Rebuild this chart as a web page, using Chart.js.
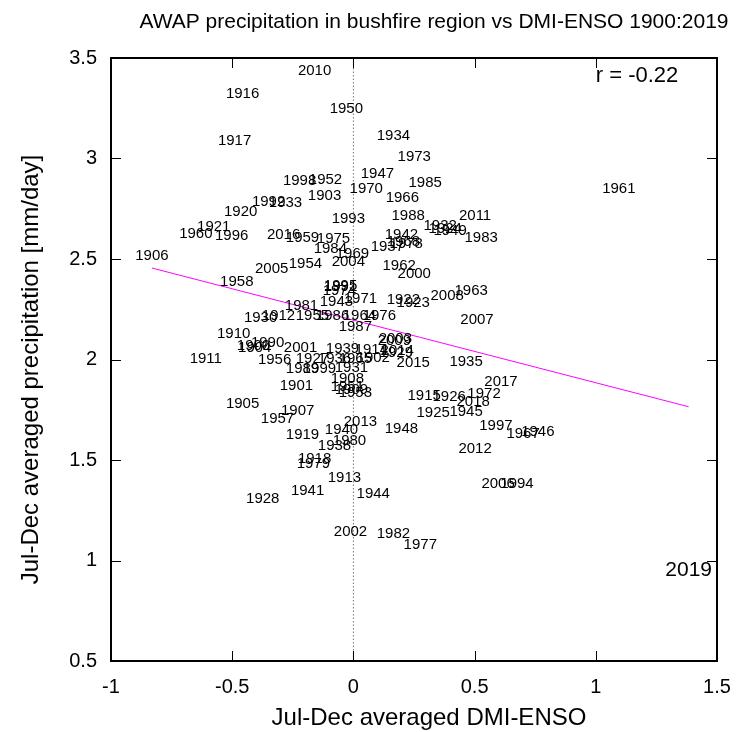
<!DOCTYPE html>
<html>
<head>
<meta charset="utf-8">
<title>AWAP precipitation vs DMI-ENSO</title>
<script src="https://cdn.jsdelivr.net/npm/chart.js@4.4.1/dist/chart.umd.min.js"></script>
<style>
    html, body { margin: 0; padding: 0; background: #fff; }
    canvas { display: block; }
</style>
</head>
<body>
<canvas id="scatter" width="740" height="732"></canvas>
<script>
// Jul-Dec averages per year: DMI-ENSO index and AWAP precipitation (mm/day)
const years = [
    1900, 1901, 1902, 1903, 1904, 1905, 1906, 1907, 1908, 1909,
    1910, 1911, 1912, 1913, 1914, 1915, 1916, 1917, 1918, 1919,
    1920, 1921, 1922, 1923, 1924, 1925, 1926, 1927, 1928, 1929,
    1930, 1931, 1932, 1933, 1934, 1935, 1936, 1937, 1938, 1939,
    1940, 1941, 1942, 1943, 1944, 1945, 1946, 1947, 1948, 1949,
    1950, 1951, 1952, 1953, 1954, 1955, 1956, 1957, 1958, 1959,
    1960, 1961, 1962, 1963, 1964, 1965, 1966, 1967, 1968, 1969,
    1970, 1971, 1972, 1973, 1974, 1975, 1976, 1977, 1978, 1979,
    1980, 1981, 1982, 1983, 1984, 1985, 1986, 1987, 1988, 1989,
    1990, 1991, 1992, 1993, 1994, 1995, 1996, 1997, 1998, 1999,
    2000, 2001, 2002, 2003, 2004, 2005, 2006, 2007, 2008, 2009,
    2010, 2011, 2012, 2013, 2014, 2015, 2016, 2017, 2018, 2019
];
const dmiEnso = [
    -0.412, -0.235, 0.082, -0.119, -0.407, -0.457, -0.831, -0.230, -0.025, -0.008,
    -0.494, -0.609, -0.309, -0.037, 0.074, 0.292, -0.457, -0.490, -0.160, -0.210,
    -0.465, -0.576, 0.206, 0.247, 0.379, 0.329, 0.395, -0.169, -0.374, 0.177,
    -0.383, -0.008, 0.358, -0.280, 0.165, 0.465, -0.078, 0.140, -0.078, -0.045,
    -0.049, -0.189, 0.198, -0.070, 0.082, 0.465, 0.761, 0.099, 0.198, 0.399,
    -0.029, -0.025, -0.115, 0.008, -0.198, -0.169, -0.325, -0.313, -0.481, -0.210,
    -0.650, 1.095, 0.189, 0.486, 0.025, 0.008, 0.202, 0.700, 0.206, -0.004,
    0.053, 0.029, 0.539, 0.251, -0.058, -0.082, 0.107, 0.276, 0.218, -0.165,
    -0.016, -0.214, 0.165, 0.527, -0.095, 0.296, -0.086, 0.008, 0.226, -0.210,
    -0.354, -0.053, -0.350, -0.021, 0.675, -0.053, -0.502, 0.588, -0.222, -0.140,
    0.251, -0.218, -0.012, 0.173, -0.021, -0.337, 0.597, 0.510, 0.387, 0.169,
    -0.160, 0.502, 0.502, 0.029, 0.181, 0.247, -0.288, 0.609, 0.494, 1.383
];
const precip = [
    2.067, 1.868, 2.007, 2.813, 2.057, 1.779, 2.515, 1.744, 1.903, 1.848,
    2.127, 2.002, 2.216, 1.410, 2.047, 1.818, 3.321, 3.087, 1.505, 1.624,
    2.734, 2.659, 2.296, 2.281, 2.649, 1.734, 1.813, 2.002, 1.306, 2.032,
    2.206, 1.958, 2.664, 2.779, 3.112, 1.988, 2.002, 2.560, 1.570, 2.052,
    1.649, 1.346, 2.619, 2.286, 1.331, 1.739, 1.639, 2.923, 1.654, 2.639,
    3.246, 1.863, 2.893, 1.833, 2.475, 2.216, 1.997, 1.704, 2.386, 2.604,
    2.624, 2.848, 2.465, 2.341, 2.216, 2.002, 2.803, 1.629, 2.585, 2.525,
    2.848, 2.301, 1.828, 3.007, 2.341, 2.600, 2.216, 1.077, 2.575, 1.480,
    1.595, 2.266, 1.132, 2.604, 2.550, 2.878, 2.216, 2.162, 2.714, 1.953,
    2.082, 2.361, 2.784, 2.699, 1.381, 2.366, 2.614, 1.669, 2.888, 1.953,
    2.425, 2.057, 1.142, 2.102, 2.485, 2.450, 1.381, 2.197, 2.316, 2.092,
    3.435, 2.714, 1.555, 1.689, 2.042, 1.983, 2.619, 1.888, 1.789, 0.953
];

// least-squares line, end points over the range of DMI-ENSO
const fitX = [-0.831, 1.383];
const fitY = [2.455, 1.765];

const xTicks = [-1, -0.5, 0, 0.5, 1, 1.5];
const yTicks = [0.5, 1, 1.5, 2, 2.5, 3, 3.5];

const corrText = 'r = -0.22';
const highlightYear = 2019;

const FONT = '"Liberation Sans", Arial, Helvetica, sans-serif';

const points = years.map((yr, i) => ({ x: dmiEnso[i], y: precip[i], year: yr }));

// year numbers written at each point (gnuplot "with labels" style)
const yearLabels = {
    id: 'yearLabels',
    afterDatasetsDraw(chart) {
        const ctx = chart.ctx;
        const meta = chart.getDatasetMeta(0);
        ctx.save();
        ctx.fillStyle = '#000';
        ctx.textAlign = 'center';
        ctx.textBaseline = 'middle';
        meta.data.forEach((el, i) => {
            const p = points[i];
            ctx.font = (p.year === highlightYear ? '21px ' : '15px ') + FONT;
            ctx.fillText(String(p.year), el.x, el.y);
        });
        ctx.restore();
    }
};

// frame, inward mirrored ticks, titles and correlation text
const frame = {
    id: 'frame',
    afterDraw(chart) {
        const { ctx, chartArea: a, scales } = chart;
        ctx.save();
        ctx.strokeStyle = '#000';
        ctx.lineWidth = 1;
        const len = 10;
        ctx.beginPath();
        xTicks.slice(1, -1).forEach(v => {
            const px = Math.round(scales.x.getPixelForValue(v)) + 0.5;
            ctx.moveTo(px, a.bottom); ctx.lineTo(px, a.bottom - len);
            ctx.moveTo(px, a.top); ctx.lineTo(px, a.top + len);
        });
        yTicks.slice(1, -1).forEach(v => {
            const py = Math.round(scales.y.getPixelForValue(v)) + 0.5;
            ctx.moveTo(a.left, py); ctx.lineTo(a.left + len, py);
            ctx.moveTo(a.right, py); ctx.lineTo(a.right - len, py);
        });
        ctx.stroke();

        ctx.lineWidth = 2;
        ctx.strokeRect(a.left, a.top, a.right - a.left, a.bottom - a.top);

        ctx.fillStyle = '#000';
        ctx.textBaseline = 'middle';
        ctx.textAlign = 'center';
        ctx.font = '21px ' + FONT;
        ctx.fillText('AWAP precipitation in bushfire region vs DMI-ENSO 1900:2019', 434, 22);

        // axis titles
        ctx.font = '24px ' + FONT;
        ctx.fillText('Jul-Dec averaged DMI-ENSO', (a.left + a.right) / 2 + 15, 718);
        ctx.save();
        ctx.translate(31, (a.top + a.bottom) / 2 + 10);
        ctx.rotate(-Math.PI / 2);
        ctx.fillText('Jul-Dec averaged precipitation [mm/day]', 0, 0);
        ctx.restore();

        ctx.textAlign = 'left';
        ctx.font = '22px ' + FONT;
        ctx.fillText(corrText, a.left + 0.8 * (a.right - a.left), a.bottom - 0.97 * (a.bottom - a.top));
        ctx.restore();
    }
};

const ctx = document.getElementById('scatter').getContext('2d');

new Chart(ctx, {
    type: 'scatter',
    data: {
        datasets: [
            {
                label: 'years',
                data: points,
                pointRadius: 0,
                pointHoverRadius: 0
            },
            {
                type: 'line',
                label: 'fit',
                data: fitX.map((x, i) => ({ x: x, y: fitY[i] })),
                borderColor: '#ff00ff',
                borderWidth: 1,
                pointRadius: 0,
                fill: false
            },
            {
                type: 'line',
                label: 'zero',
                data: [{ x: 0, y: yTicks[0] }, { x: 0, y: yTicks[yTicks.length - 1] }],
                borderColor: '#777',
                borderWidth: 1,
                borderDash: [1.5, 2],
                pointRadius: 0,
                fill: false
            }
        ]
    },
    options: {
        responsive: false,
        animation: false,
        devicePixelRatio: 1,
        layout: { padding: { top: 58, right: 23, left: 0, bottom: 0 } },
        plugins: {
            legend: { display: false },
            tooltip: { enabled: false },
            title: { display: false }
        },
        scales: {
            x: {
                type: 'linear',
                min: xTicks[0],
                max: xTicks[xTicks.length - 1],
                afterBuildTicks: s => { s.ticks = xTicks.map(v => ({ value: v })); },
                afterFit: s => { s.height = 71; s.paddingLeft = 0; s.paddingRight = 0; },
                grid: { display: false, drawTicks: false },
                border: { display: false },
                ticks: {
                    color: '#000',
                    padding: 14,
                    font: { family: FONT, size: 20 },
                    callback: v => String(v)
                }
            },
            y: {
                type: 'linear',
                min: yTicks[0],
                max: yTicks[yTicks.length - 1],
                afterBuildTicks: s => { s.ticks = yTicks.map(v => ({ value: v })); },
                afterFit: s => { s.width = 111; s.paddingTop = 0; s.paddingBottom = 0; },
                grid: { display: false, drawTicks: false },
                border: { display: false },
                ticks: {
                    color: '#000',
                    padding: 14,
                    font: { family: FONT, size: 20 },
                    callback: v => String(v)
                }
            }
        }
    },
    plugins: [yearLabels, frame]
});
</script>
</body>
</html>
